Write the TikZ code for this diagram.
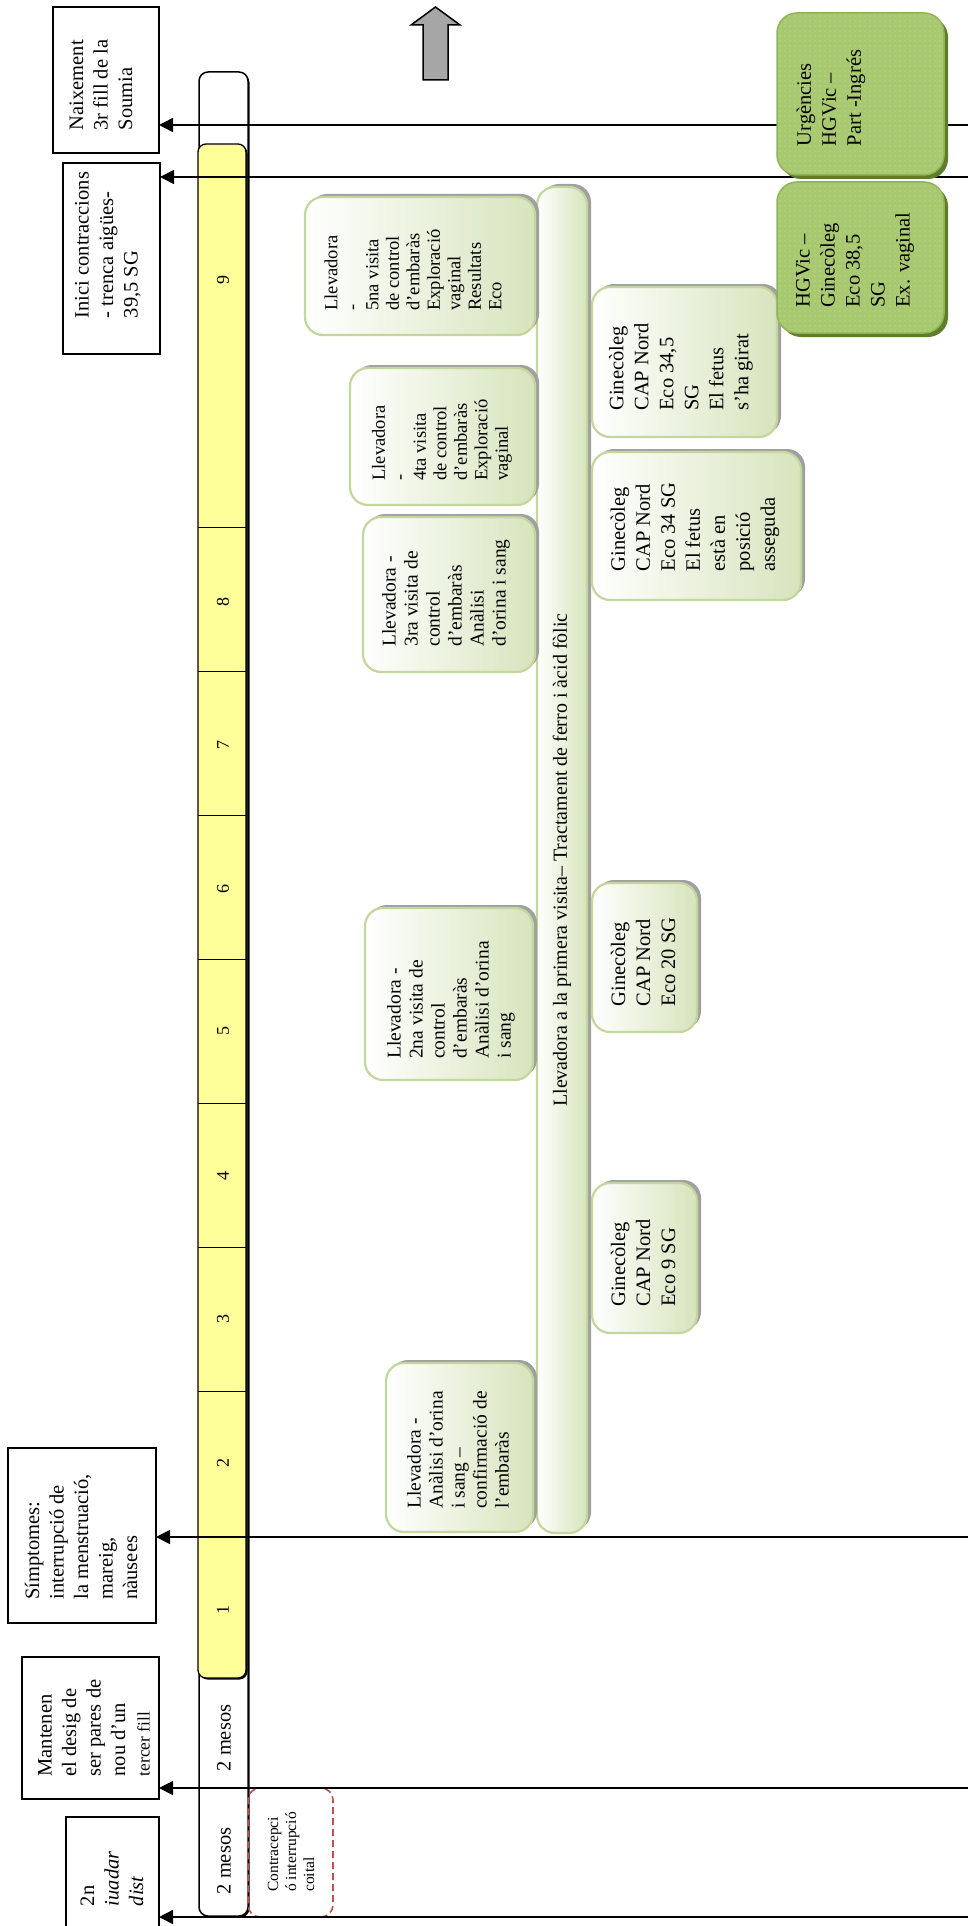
\documentclass[tikz,border=0pt]{standalone}
\usepackage{fontspec}
\setmainfont{Liberation Serif}
\usetikzlibrary{arrows.meta,fit,shadows,patterns.meta}
\definecolor{paleg}{HTML}{D7E4BD}
\definecolor{paleb}{HTML}{C3D69B}
\definecolor{shadowgray}{HTML}{A0A0A0}
\definecolor{darkg}{HTML}{A9C971}
\definecolor{darkgb}{HTML}{8FB356}
\definecolor{darkgs}{HTML}{5F7D2B}
\definecolor{dotg}{HTML}{C6DBA3}
\definecolor{barY}{HTML}{FFFF99}
\definecolor{dashr}{HTML}{C0504D}
\definecolor{arrgray}{HTML}{A6A6A6}
\begin{document}
\begin{tikzpicture}[x=1pt,y=-1pt,
  every node/.style={inner sep=0pt,outer sep=0pt},
  eventbox/.style={draw,line width=1.3pt,fill=white},
  evtxt/.style={rotate=90,align=left,font=\fontsize{20.5}{24.5}\selectfont},
  visitbox/.style={draw=paleb,line width=2.2pt,rounded corners=18pt,left color=white,right color=paleg,
     drop shadow={shadow xshift=4pt,shadow yshift=3pt,fill=shadowgray,opacity=1}},
  midwtxt/.style={rotate=90,align=left,font=\fontsize{19.5}{22}\selectfont},
  smalltxt/.style={rotate=90,align=left,font=\fontsize{18.5}{20.5}\selectfont},
  gyntxt/.style={rotate=90,align=left,font=\fontsize{20.5}{25}\selectfont},
  hospbox/.style={draw=darkgb,line width=1.5pt,rounded corners=20pt,fill=darkg,
     drop shadow={shadow xshift=4pt,shadow yshift=-4pt,fill=darkgs,opacity=1},
     postaction={pattern={Dots[distance=5pt,radius=0.6pt]},pattern color=dotg}},
  wbar/.style={draw,line width=1.5pt,fill=white,rounded corners=9pt,
     drop shadow={shadow xshift=1.5pt,shadow yshift=-1.5pt,fill=black,opacity=1}},
  ybar/.style={draw,line width=1.3pt,fill=barY,rounded corners=8pt,
     drop shadow={shadow xshift=1.5pt,shadow yshift=-1.5pt,fill=black,opacity=1}},
  monthlab/.style={rotate=90,font=\fontsize{18}{20}\selectfont},
  conn/.style={line width=1.5pt,-{Triangle[length=14pt,width=14pt]}},
  dashbox/.style={draw=dashr,line width=1.6pt,dash pattern=on 7pt off 4pt,rounded corners=12pt},
]
\fill[white] (0,0) rectangle (968,1926);
\useasboundingbox (0,0) rectangle (968,1926);

% timeline bar
\node[wbar,fit={(199,72) (248,1916)}] (wbar) {};
\node[ybar,fit={(198,144) (246,1678)}] (ybar) {};
\foreach \yy in {527,671,815,959,1103,1247,1391}
  \draw[line width=0.8pt] (198,\yy) -- (246,\yy);
\node[monthlab] (m9) at (223,280) {9};
\node[monthlab] (m8) at (223,602) {8};
\node[monthlab] (m7) at (223,745) {7};
\node[monthlab] (m6) at (223,889) {6};
\node[monthlab] (m5) at (223,1031) {5};
\node[monthlab] (m4) at (223,1176) {4};
\node[monthlab] (m3) at (223,1319) {3};
\node[monthlab] (m2) at (223,1463) {2};
\node[monthlab] (m1) at (223,1610) {1};
\node[evtxt] (pre1) at (224,1738) {2 mesos};
\node[evtxt] (pre2) at (224,1861) {2 mesos};

% contraception note
\node[dashbox,fit={(248,1788) (333,1917)}] (contra) {};
\node[rotate=90,align=left,font=\fontsize{15.5}{18}\selectfont] (contrat) at (291,1852)
  {Contracepci\\ó interrupció\\coital};

% events on the left
\node[eventbox,fit={(53,7) (159,153)}] (naix) {};
\node[evtxt] (naixt) at (101,85) {Naixement\\3r fill de la\\Soumia};
\node[eventbox,fit={(63,163) (160,354)}] (inici) {};
\node[evtxt] (incit) at (108,245) {Inici contraccions\\- trenca aigües-\\39,5 SG};
\node[eventbox,fit={(8,1448) (156,1623)}] (simp) {};
\node[evtxt] (simpt) at (81,1537) {Símptomes:\\interrupció de\\la menstruació,\\mareig,\\nàusees};
\node[eventbox,fit={(22,1657) (159,1799)}] (mant) {};
\node[evtxt] (mantt) at (94,1728) {Mantenen\\el desig de\\ser pares de\\nou d’un\\{\fontsize{17.5}{24.5}\selectfont tercer fill}};
\node[eventbox,fit={(66,1817) (159,1990)}] (dos) {};
\node[evtxt,anchor=west] (dost) at (112,1906) {2n\\\textit{iuadar}\\\textit{dist}};

% arrows from the right edge
\coordinate (e1) at (968,125);
\coordinate (e2) at (968,177);
\coordinate (e3) at (968,1537);
\coordinate (e4) at (968,1788);
\coordinate (e5) at (968,1917);
\draw[conn] (e1) -- (e1 -| naix.east);
\draw[conn] (e2) -- (e2 -| inici.east);
\draw[conn] (e3) -- (e3 -| simp.east);
\draw[conn] (e4) -- (e4 -| mant.east);
\draw[conn] (e5) -- (e5 -| dos.east);

% midwife visits
\node[visitbox,fit={(537,187) (587,1533)}] (first) {};
\node[rotate=90,font=\fontsize{20}{24}\selectfont] (firstt) at (562,860)
  {Llevadora a la primera visita– Tractament de ferro i àcid fòlic};
\node[visitbox,fit={(305,197) (535,335)}] (v5) {};
\node[smalltxt] (v5t) at (413,270) {Llevadora\\-\\5na visita\\de control\\d’embaràs\\Exploració\\vaginal\\Resultats\\Eco};
\node[visitbox,fit={(350,368) (535,505)}] (v4) {};
\node[smalltxt] (v4t) at (442,440) {Llevadora\\-\\4ta visita\\de control\\d’embaràs\\Exploració\\vaginal};
\node[visitbox,fit={(363,517) (535,672)}] (v3) {};
\node[midwtxt] (v3t) at (446,593) {Llevadora  -\\3ra visita de\\control\\d’embaràs\\Anàlisi\\d’orina i sang};
\node[visitbox,fit={(365,908) (533,1080)}] (v2) {};
\node[midwtxt] (v2t) at (451,1000) {Llevadora  -\\2na visita de\\control\\d’embaràs\\Anàlisi d’orina\\i sang};
\node[visitbox,fit={(386,1363) (533,1532)}] (v1) {};
\node[midwtxt] (v1t) at (458,1450) {Llevadora  -\\Anàlisi d’orina\\i sang –\\confirmació de\\l’embaràs};

% gynaecologist visits
\node[visitbox,fit={(592,287) (777,437)}] (g345) {};
\node[gyntxt] (g345t) at (681,367) {Ginecòleg\\CAP Nord\\Eco 34,5\\SG\\El fetus\\s’ha girat};
\node[visitbox,fit={(592,452) (801,600)}] (g34) {};
\node[gyntxt] (g34t) at (695,527) {Ginecòleg\\CAP Nord\\Eco 34 SG\\El fetus\\està en\\posició\\asseguda};
\node[visitbox,fit={(592,883) (697,1032)}] (g20) {};
\node[gyntxt] (g20t) at (643,962) {Ginecòleg\\CAP Nord\\Eco 20 SG};
\node[visitbox,fit={(592,1183) (697,1333)}] (g9) {};
\node[gyntxt] (g9t) at (643,1263) {Ginecòleg\\CAP Nord\\Eco 9 SG};

% hospital
\node[hospbox,fit={(777,13) (944,175)}] (urg) {};
\node[gyntxt] (urgt) at (831,98) {Urgències\\HGVic –\\Part -Ingrés};
\node[hospbox,fit={(777,182) (944,333)}] (hgv) {};
\node[gyntxt] (hgvt) at (855,260) {HGVic –\\Ginecòleg\\Eco 38,5\\SG\\Ex. vaginal};

% direction arrow
\draw[line width=1.5pt,fill=arrgray,line join=miter]
  (435.5,7) -- (460,25) -- (448,25) -- (448,80) -- (423,80) -- (423,25) -- (411,25) -- cycle;
\end{tikzpicture}
\end{document}
